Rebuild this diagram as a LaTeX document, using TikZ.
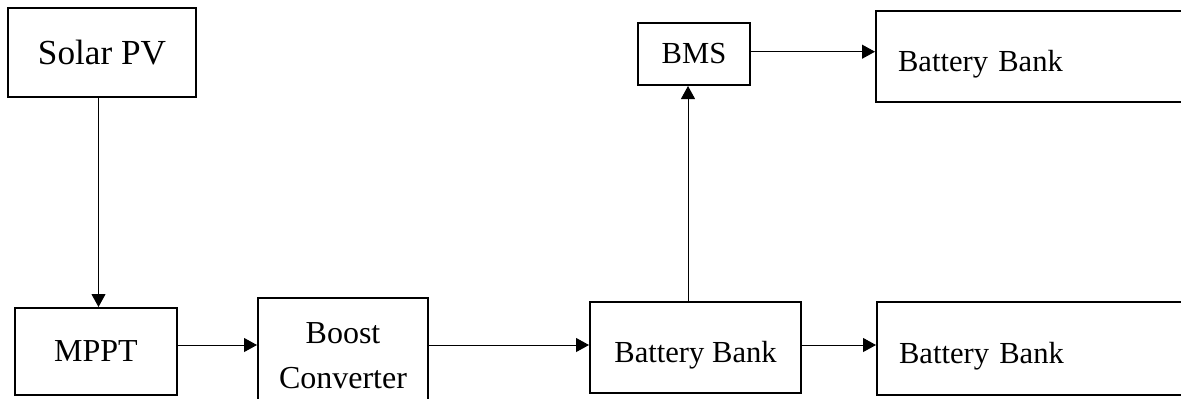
\documentclass[tikz,border=0pt]{standalone}
\usepackage{fontspec}
\setmainfont{Liberation Serif}
\usetikzlibrary{arrows.meta}
\begin{document}
\begin{tikzpicture}[x=0.5pt,y=-0.5pt,
  box/.style={draw,line width=1pt,inner sep=0pt,align=center,font=\fontsize{15.3}{22.5}\selectfont},
  bbtext/.style={text height=14.5pt,text depth=0pt},
  arr/.style={line width=0.5pt,-{Triangle[length=6.5pt,width=7pt]}}]
\useasboundingbox (0,0) rectangle (1181,398);
\clip (0,0) rectangle (1181,398);
\node[box,minimum width=94pt,minimum height=44.5pt,font=\fontsize{17.6}{22}\selectfont] (sol) at (102,52.5) {Solar PV};
\node[box,minimum width=81pt,minimum height=43.5pt,font=\fontsize{16}{22}\selectfont] (mppt) at (96,351.5) {MPPT};
\node[box,minimum width=85pt,minimum height=52pt,font=\fontsize{16}{22.5}\selectfont,text height=38.5pt] (boost) at (343,350) {Boost\\Converter};
\node[box,bbtext,minimum width=105.5pt,minimum height=45.5pt] (bb) at (695.5,347.5) {Battery Bank};
\node[box,minimum width=56pt,minimum height=31pt] (bms) at (694,54) {BMS};
\node[box,bbtext,anchor=west,minimum height=46.5pt,inner xsep=11pt,text width=135pt,align=left] (bbr) at (876,348.5) {Battery Bank};
\node[box,bbtext,anchor=west,minimum height=45.5pt,inner xsep=11pt,text width=135pt,align=left] (bbt) at (875,56.5) {Battery Bank};
\coordinate (row) at (0,345);
\coordinate (vx) at (688,0);
\coordinate (px) at (98.5,0);
\draw[arr] (sol.south -| px) -- (mppt.north -| px);
\draw[arr] (mppt.east |- row) -- (boost.west |- row);
\draw[arr] (boost.east |- row) -- (bb.west |- row);
\draw[arr] (bb.east |- row) -- (bbr.west |- row);
\draw[arr] (bb.north -| vx) -- (bms.south -| vx);
\draw[arr] (bms.east |- 0,51.7) -- (bbt.west |- 0,51.7);
\end{tikzpicture}
\end{document}
